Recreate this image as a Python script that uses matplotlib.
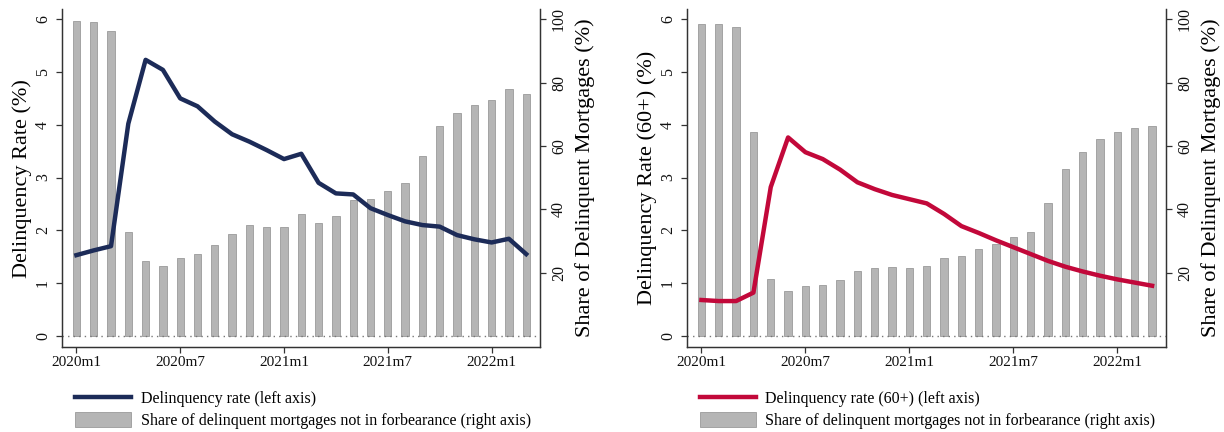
import matplotlib
matplotlib.use("Agg")
import matplotlib.pyplot as plt
from matplotlib.patches import Patch
from matplotlib.lines import Line2D
import numpy as np

plt.rcParams['font.family'] = ['Liberation Serif', 'DejaVu Serif']

months = ["2020m1", "2020m2", "2020m3", "2020m4", "2020m5", "2020m6", "2020m7", "2020m8", "2020m9",
          "2020m10", "2020m11", "2020m12", "2021m1", "2021m2", "2021m3", "2021m4", "2021m5", "2021m6",
          "2021m7", "2021m8", "2021m9", "2021m10", "2021m11", "2021m12", "2022m1", "2022m2", "2022m3"]
tick_labels = ["2020m1", "2020m7", "2021m1", "2021m7", "2022m1"]

delinq_rate = [1.53, 1.62, 1.70, 4.02, 5.23, 5.04, 4.50, 4.35, 4.06, 3.82, 3.68, 3.52, 3.35, 3.45,
               2.90, 2.70, 2.68, 2.42, 2.29, 2.17, 2.10, 2.07, 1.91, 1.83, 1.77, 1.84, 1.55]
share_left = [99.3, 99.1, 96.4, 32.9, 23.6, 22.2, 24.7, 25.9, 28.7, 32.1, 34.9, 34.3, 34.3, 38.5,
              35.6, 38.0, 42.9, 43.3, 45.7, 48.3, 56.8, 66.2, 70.3, 72.8, 74.5, 77.9, 76.3]

delinq60_rate = [0.68, 0.66, 0.66, 0.82, 2.82, 3.76, 3.48, 3.35, 3.15, 2.91, 2.78, 2.67, 2.59, 2.51,
                 2.31, 2.08, 1.95, 1.81, 1.68, 1.55, 1.42, 1.31, 1.22, 1.14, 1.07, 1.01, 0.95]
share_right = [98.4, 98.4, 97.5, 64.3, 18.1, 14.3, 15.9, 16.0, 17.8, 20.4, 21.5, 21.7, 21.4, 22.2,
               24.5, 25.2, 27.4, 28.9, 31.2, 32.7, 42.0, 52.6, 58.1, 62.1, 64.3, 65.6, 66.4]

NAVY = "#1c2b58"
RED = "#c2083a"
BAR = "#b5b5b5"
BAR_EDGE = "#9a9a9a"

fig = plt.figure(figsize=(12.24, 4.32), dpi=100)


def panel(rect, line_vals, share_vals, color, ylabel, line_label):
    ax = fig.add_axes(rect)
    ax2 = ax.twinx()
    x = np.arange(len(months))
    ax2.bar(x, share_vals, width=0.42, color=BAR, edgecolor=BAR_EDGE, linewidth=0.6, zorder=1)
    ax2.axhline(0, color="#777777", lw=1.0, ls=(0, (1, 3)), zorder=2)
    ax2.plot(x, np.array(line_vals) / 6.0 * 100.0, color=color, lw=3.2, zorder=3)
    ax.set_ylim(-0.21, 6.19)
    ax2.set_ylim(-3.5, 103.17)
    ax.set_xlim(-0.83, 26.8)
    ax.set_yticks([0, 1, 2, 3, 4, 5, 6])
    ax2.set_yticks([20, 40, 60, 80, 100])
    ax.set_xticks([months.index(t) for t in tick_labels])
    ax.set_xticklabels(tick_labels, fontsize=11)
    for a in (ax, ax2):
        for lbl in a.get_yticklabels():
            lbl.set_rotation(90)
            lbl.set_va('center')
            lbl.set_fontsize(11.5)
        a.spines['top'].set_visible(False)
        for s in ('left', 'right', 'bottom'):
            a.spines[s].set_color("#333333")
            a.spines[s].set_linewidth(0.9)
        a.tick_params(direction='out', length=4, width=0.9, color="#333333", labelcolor="#111111")
    ax.tick_params(axis='y', pad=4)
    ax2.tick_params(axis='y', pad=4)
    ax.tick_params(axis='x', pad=2.5)
    ax.set_ylabel(ylabel, fontsize=16, labelpad=2)
    ax2.set_ylabel("Share of Delinquent Mortgages (%)", fontsize=16, labelpad=6)
    handles = [Line2D([0], [0], color=color, lw=3.2),
               Patch(facecolor=BAR, edgecolor=BAR_EDGE, linewidth=0.6)]
    labels = [line_label, "Share of delinquent mortgages not in forbearance (right axis)"]
    fig.legend(handles, labels, loc='upper left',
               bbox_to_anchor=(rect[0] + 0.0106, 0.097), frameon=False, fontsize=11.5,
               handlelength=3.5, handleheight=1.1, handletextpad=0.6, labelspacing=0.3,
               borderaxespad=0, borderpad=0)
    return ax, ax2


panel([0.0507, 0.1968, 0.3905, 0.782], delinq_rate, share_left, NAVY,
      "Delinquency Rate (%)", "Delinquency rate (left axis)")
panel([0.5613, 0.1968, 0.3913, 0.782], delinq60_rate, share_right, RED,
      "Delinquency Rate (60+) (%)", "Delinquency rate (60+) (left axis)")

fig.savefig("out.png", dpi=100)
